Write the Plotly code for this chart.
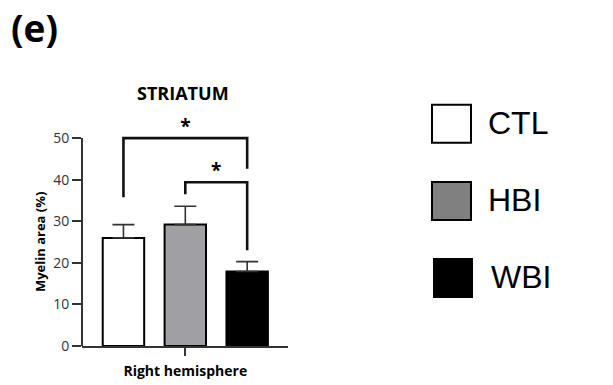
import plotly.graph_objects as go

# ---- data ----
groups = ["CTL", "HBI", "WBI"]
group_pos = [0, 1, 2]
means = [26.0, 29.2, 17.9]
errors = [3.2, 4.4, 2.4]
bar_colors = ["#ffffff", "#a0a0a4", "#000000"]
category_label = ["Right hemisphere"]
y_ticks = [0, 10, 20, 30, 40, 50]

# significance brackets (x in group positions, y in data units)
br1_x = [0, 0, 2, 2]
br1_y = [35.8, 50.0, 50.0, 42.6]
br2_x = [1, 1, 2, 2]
br2_y = [36.5, 39.4, 39.4, 23.0]
star_x = [1.0, 1.5]
star_y = [52.3, 41.8]
star_text = ["*", "*"]

legend_labels = ["CTL", "HBI", "WBI"]
legend_colors = ["#ffffff", "#808080", "#000000"]

# ---- layout geometry (pixels) ----
W, H = 613, 385
ML, MR, MT, MB = 82, 325, 109, 39
PW = W - ML - MR
PH = H - MT - MB


def xp(px):
    return (px - ML) / PW


def yp(py):
    return (H - MB - py) / PH


fig = go.Figure()
fig.add_trace(go.Bar(
    x=group_pos, y=means, width=0.67,
    marker=dict(color=bar_colors, line=dict(color="#000000", width=2)),
    error_y=dict(type="data", array=errors, arrayminus=[0] * len(errors),
                 symmetric=False, color="#333333", thickness=1.6, width=11),
    showlegend=False, hoverinfo="skip",
))
for bx, by in [(br1_x, br1_y), (br2_x, br2_y)]:
    fig.add_trace(go.Scatter(x=bx, y=by, mode="lines",
                             line=dict(color="#111111", width=2.6),
                             showlegend=False, hoverinfo="skip"))
fig.add_trace(go.Scatter(x=star_x, y=star_y, mode="text", text=star_text,
                         textposition="middle center", cliponaxis=False,
                         textfont=dict(family="Open Sans", size=19, color="#000000", weight="bold"),
                         showlegend=False, hoverinfo="skip"))

shapes = [
    # y axis line (only up to 50)
    dict(type="line", xref="paper", yref="y", x0=0, x1=0, y0=0, y1=50,
         line=dict(color="#333333", width=2)),
]
legend_boxes = [(432, 471, 104.7, 142.7, 2), (432, 471, 182, 220, 2), (433, 473, 258, 298, 0)]
legend_text_pos = [(486, 123), (486, 200), (489, 277)]
for (x0, x1, y0, y1, lw), col in zip(legend_boxes, legend_colors):
    shapes.append(dict(type="rect", xref="paper", yref="paper",
                       x0=xp(x0), x1=xp(x1), y0=yp(y1), y1=yp(y0),
                       fillcolor=col, line=dict(color="#000000", width=lw)))

annotations = []
for lab, (tx, ty) in zip(legend_labels, legend_text_pos):
    annotations.append(dict(text=lab, xref="paper", yref="paper", x=xp(tx), y=yp(ty),
                            xanchor="left", yanchor="middle", showarrow=False,
                            font=dict(family="Liberation Sans, Arial", size=32, color="#000000")))
annotations.append(dict(text="STRIATUM", xref="paper", yref="paper", x=xp(182.7), y=yp(93),
                        xanchor="center", yanchor="middle", showarrow=False,
                        font=dict(family="Open Sans", size=18, color="#000000", weight="bold")))
annotations.append(dict(text="(e)", xref="paper", yref="paper", x=xp(34), y=yp(28),
                        xanchor="center", yanchor="middle", showarrow=False,
                        font=dict(family="Open Sans", size=37, color="#000000", weight="bold")))
annotations.append(dict(text="Myelin area (%)", xref="paper", yref="y", x=xp(40), y=25,
                        xanchor="center", yanchor="middle", showarrow=False, textangle=-90,
                        font=dict(family="Open Sans", size=13, color="#000000", weight="bold")))

fig.update_layout(
    width=W, height=H,
    margin=dict(l=ML, r=MR, t=MT, b=MB, autoexpand=False),
    paper_bgcolor="#ffffff", plot_bgcolor="#ffffff",
    shapes=shapes, annotations=annotations,
    xaxis=dict(range=[-0.67, 2.66], tickvals=[1], ticktext=category_label,
               ticks="outside", ticklen=8, tickwidth=1.6, tickcolor="#333333",
               showline=True, linecolor="#333333", linewidth=2,
               showgrid=False, zeroline=False, fixedrange=True, automargin=False,
               ticklabelstandoff=3,
               tickfont=dict(family="Open Sans", size=14, color="#000000", weight="bold")),
    yaxis=dict(range=[0, 57], tickvals=y_ticks, ticks="outside", ticklen=9,
               tickwidth=1.6, tickcolor="#333333", showline=False,
               showgrid=False, zeroline=False, fixedrange=True, automargin=False,
               tickfont=dict(family="Open Sans", size=14, color="#333333")),
    font=dict(family="Open Sans"),
)
fig.write_html("out.html")
